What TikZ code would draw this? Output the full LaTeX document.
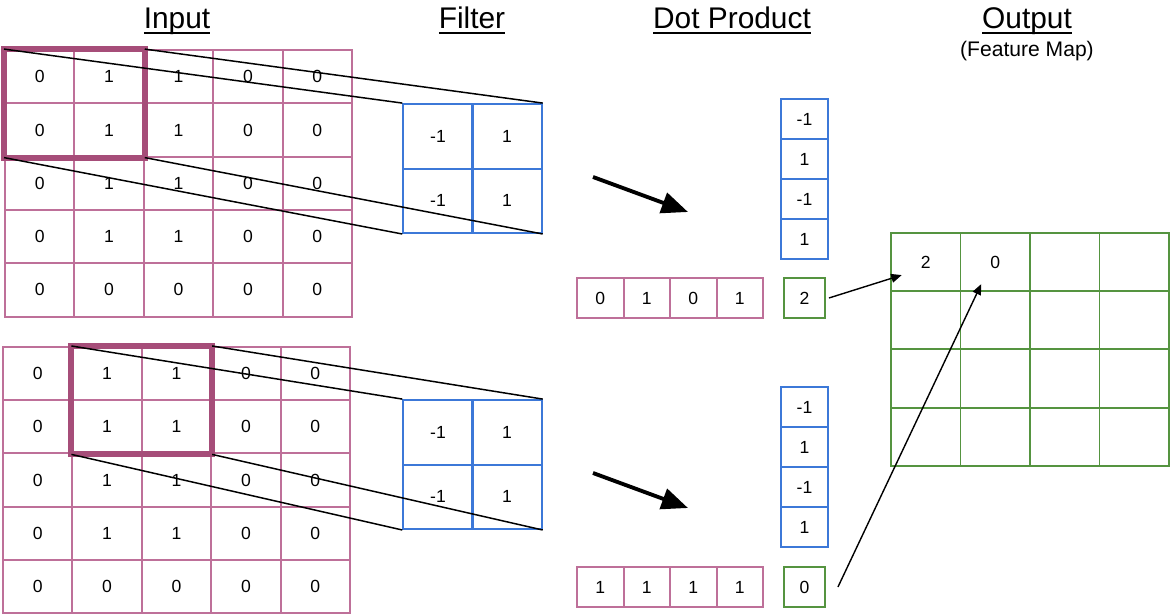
\documentclass[tikz,border=0pt]{standalone}
\usepackage{fontspec}
\setmainfont{Liberation Sans}
\usetikzlibrary{arrows.meta}

\definecolor{gridpink}{HTML}{BE7099}
\definecolor{framepink}{HTML}{A64D79}
\definecolor{filterblue}{HTML}{3C78D8}
\definecolor{mapgreen}{HTML}{559440}

% underlined heading
\newlength{\ulwd}
\newcommand{\ultitle}[1]{\settowidth{\ulwd}{#1}\rlap{\rule[-2.9pt]{\ulwd}{1.1pt}}#1}

\tikzset{
  box/.style={draw, line width=1.1pt, inner sep=0pt, font=\fontsize{10}{12}\selectfont},
  incell/.style={box, draw=gridpink, minimum width=1.388cm, minimum height=1.066cm},
  fcell/.style={box, draw=filterblue, minimum width=1.39cm, minimum height=1.29cm},
  colcell/.style={box, draw=filterblue, minimum width=0.94cm, minimum height=0.8cm},
  rowcell/.style={box, draw=gridpink, minimum width=0.93cm, minimum height=0.8cm},
  rescell/.style={box, draw=mapgreen, minimum width=0.82cm, minimum height=0.8cm},
  outcell/.style={box, draw=mapgreen, minimum width=1.39cm, minimum height=1.165cm},
  digit/.style={inner sep=0pt, font=\fontsize{10}{12}\selectfont},
  title/.style={inner sep=0pt, anchor=base, font=\fontsize{17}{20}\selectfont},
  subtitle/.style={inner sep=0pt, anchor=base, font=\fontsize{12}{14}\selectfont},
  frame/.style={draw=framepink, line width=3.4pt},
  proj/.style={draw=black, line width=0.85pt},
  bigarrow/.style={draw=black, line width=2.2pt, -{Triangle[length=15pt,width=12pt]}},
  maparrow/.style={draw=black, line width=0.8pt, -{Triangle[length=6pt,width=5pt]}}
}

\begin{document}
\begin{tikzpicture}[x=0.02cm, y=-0.02cm]
  \useasboundingbox (0,0) rectangle (1171,614);

  % headings
  \node[title] (t-in)  at (177,29)  {\ultitle{Input}};
  \node[title] (t-fil) at (472,29)  {\ultitle{Filter}};
  \node[title] (t-dot) at (732,29)  {\ultitle{Dot Product}};
  \node[title] (t-out) at (1027,29) {\ultitle{Output}};
  \node[subtitle] (t-map) at (1027,57) {(Feature Map)};

  % input grids, first and second step
  \foreach \row [count=\r from 0] in {{0,1,1,0,0},{0,1,1,0,0},{0,1,1,0,0},{0,1,1,0,0},{0,0,0,0,0}} {
    \foreach \v [count=\c from 0] in \row {
      \node[incell] (a-\r-\c) at ({39.7+69.4*\c},{76.7+53.3*\r}) {\v};
      \node[incell] (b-\r-\c) at ({37.7+69.4*\c},{373.6+53.2*\r}) {\v};
    }
  }

  % 2x2 filters
  \foreach \s/\dy in {fa/0, fb/296} {
    \node[fcell] (\s-0-0) at (438,{136.3+\dy}) {-1};
    \node[fcell] (\s-0-1) at (507,{136.3+\dy}) {1};
    \node[fcell] (\s-1-0) at (438,{200.8+\dy}) {-1};
    \node[fcell] (\s-1-1) at (507,{200.8+\dy}) {1};
  }

  % receptive fields
  \draw[frame] (a-0-0.north west) rectangle (a-1-1.south east);
  \draw[frame] (b-0-1.north west) rectangle (b-1-2.south east);

  \draw[proj] (a-0-0.north west) -- (fa-0-0.north west)
              (a-0-1.north east) -- (fa-0-1.north east)
              (a-1-0.south west) -- (fa-1-0.south west)
              (a-1-1.south east) -- (fa-1-1.south east);
  \draw[proj] (b-0-1.north west) -- (fb-0-0.north west)
              (b-0-2.north east) -- (fb-0-1.north east)
              (b-1-1.south west) -- (fb-1-0.south west)
              (b-1-2.south east) -- (fb-1-1.south east);

  % flattened filter and patch
  \foreach \v [count=\i from 0] in {-1,1,-1,1} {
    \node[colcell] (ca-\i) at (804.5,{119+40*\i}) {\v};
    \node[colcell] (cb-\i) at (804.5,{407+40*\i}) {\v};
  }
  \foreach \v [count=\i from 0] in {0,1,0,1}
    \node[rowcell] (ra-\i) at ({600.3+46.5*\i},298) {\v};
  \foreach \v [count=\i from 0] in {1,1,1,1}
    \node[rowcell] (rb-\i) at ({600.3+46.5*\i},587) {\v};

  \node[rescell] (resa) at (804.5,298) {2};
  \node[rescell] (resb) at (804.5,587) {0};

  \coordinate (pa-s) at (593,177);
  \coordinate (pa-e) at (688,212);
  \coordinate (pb-s) at (593,473);
  \coordinate (pb-e) at (688,508);
  \draw[bigarrow] (pa-s) -- (pa-e);
  \draw[bigarrow] (pb-s) -- (pb-e);

  % feature map
  \foreach \r in {0,...,3}
    \foreach \c in {0,...,3}
      \node[outcell] (o-\r-\c) at ({925.75+69.5*\c},{262.1+58.25*\r}) {};
  \node[digit] (o-val-a) at (o-0-0) {2};
  \node[digit] (o-val-b) at (o-0-1) {0};

  \draw[maparrow] ([xshift=0.06cm]resa.east) -- ([shift={(-24,13)}]o-0-0.center);
  \draw[maparrow] ([xshift=0.24cm]resb.east) -- ([shift={(-14,22)}]o-0-1.center);
\end{tikzpicture}
\end{document}
